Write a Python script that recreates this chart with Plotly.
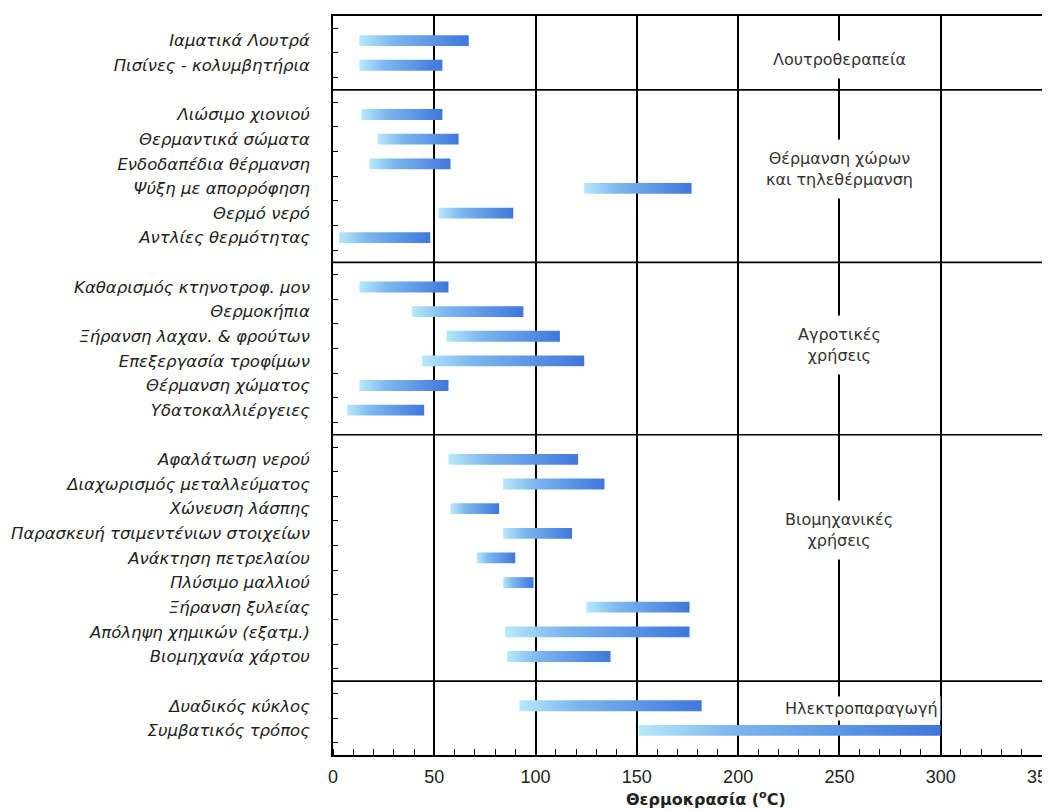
import plotly.graph_objects as go

# ---------------- data ----------------
group_names = [
    "Λουτροθεραπεία",
    "Θέρμανση χώρων<br>και τηλεθέρμανση",
    "Αγροτικές<br>χρήσεις",
    "Βιομηχανικές<br>χρήσεις",
    "Ηλεκτροπαραγωγή",
]
group_sizes = [2, 6, 6, 9, 2]

uses = [
    "Ιαματικά Λουτρά", "Πισίνες - κολυμβητήρια",
    "Λιώσιμο χιονιού", "Θερμαντικά σώματα", "Ενδοδαπέδια θέρμανση",
    "Ψύξη με απορρόφηση", "Θερμό νερό", "Αντλίες θερμότητας",
    "Καθαρισμός κτηνοτροφ. μον", "Θερμοκήπια", "Ξήρανση λαχαν. & φρούτων",
    "Επεξεργασία τροφίμων", "Θέρμανση χώματος", "Υδατοκαλλιέργειες",
    "Αφαλάτωση νερού", "Διαχωρισμός μεταλλεύματος", "Χώνευση λάσπης",
    "Παρασκευή τσιμεντένιων στοιχείων", "Ανάκτηση πετρελαίου", "Πλύσιμο μαλλιού",
    "Ξήρανση ξυλείας", "Απόληψη χημικών (εξατμ.)", "Βιομηχανία χάρτου",
    "Δυαδικός κύκλος", "Συμβατικός τρόπος",
]
t_min = [13, 13,
         14, 22, 18, 124, 52, 3,
         13, 39, 56, 44, 13, 7,
         57, 84, 58, 84, 71, 84, 125, 85, 86,
         92, 151]
t_max = [67, 54,
         54, 62, 58, 177, 89, 48,
         57, 94, 112, 124, 57, 45,
         121, 134, 82, 118, 90, 99, 176, 176, 137,
         182, 300]

x_ticks = [0, 50, 100, 150, 200, 250, 300, 350]
x_title = "Θερμοκρασία (<sup>o</sup>C)"

# ---------------- layout helpers ----------------
# each group occupies (n + 1) row units: rows at 1..n after its top boundary
row_pos = []
boundaries = [0]
b = 0
for n in group_sizes:
    row_pos.extend([b + k for k in range(1, n + 1)])
    b += n + 1
    boundaries.append(b)
total_units = b
tick_marks = []
for i in range(len(group_sizes)):
    tick_marks.extend([boundaries[i] + k + 0.5 for k in range(group_sizes[i] + 1)])

half_h = 0.22
bar_scale = [[0.0, "#b8e9fa"], [0.3, "#7db8ef"], [1.0, "#3f77dc"]]

fig = go.Figure()
for name, s, e, y in zip(uses, t_min, t_max, row_pos):
    fig.add_trace(go.Scatter(
        x=[s, e, e, s, s],
        y=[y - half_h, y - half_h, y + half_h, y + half_h, y - half_h],
        mode="lines", fill="toself",
        line=dict(width=0, color="rgba(0,0,0,0)"),
        fillgradient=dict(type="horizontal", colorscale=bar_scale),
        name=name, hoverinfo="name",
    ))

# group separators
for yb in boundaries[1:-1]:
    fig.add_shape(type="line", xref="x", yref="y", x0=0, x1=350, y0=yb, y1=yb,
                  line=dict(color="black", width=1.6), layer="above")

# group labels (interrupting the 250 gridline)
label_x = [250, 250, 250, 250, 261]
label_shift = [0.25, -0.29, -0.14, -1.13, -0.4]
label_pad = [9, 9, 9, 9, 2]
for i, g in enumerate(group_names):
    yc = (boundaries[i] + boundaries[i + 1]) / 2 + label_shift[i]
    fig.add_annotation(x=label_x[i], y=yc, xref="x", yref="y", text=g,
                       showarrow=False, bgcolor="white", borderpad=label_pad[i],
                       font=dict(family="DejaVu Sans", size=16, color="#333"),
                       align="center")

# x-axis title (placed slightly right of centre, as in the reference)
fig.add_annotation(x=0.526, y=0, xref="paper", yref="paper", yanchor="middle",
                   yshift=-43, showarrow=False, text="<b>" + x_title + "</b>",
                   font=dict(family="DejaVu Sans", size=16, color="#222"))

# page body adds an 8px offset: figure is sized so the plot lands where the reference has it
fig.update_layout(
    width=1042, height=803,
    margin=dict(l=325, r=8, t=8, b=56, autoexpand=False),
    plot_bgcolor="white", paper_bgcolor="white",
    showlegend=False,
    xaxis=dict(
        range=[0, 350], tickmode="array", tickvals=x_ticks,
        ticks="", showgrid=True, gridcolor="black", gridwidth=1.6,
        showline=True, linecolor="black", linewidth=1.6, mirror=True,
        zeroline=False, automargin=False,
        tickfont=dict(family="Liberation Sans", size=18, color="#222"),
        ticklabelstandoff=5, ticklabeloverflow="allow",
        minor=dict(tick0=0, dtick=10, ticks="inside", ticklen=6,
                   tickcolor="black", tickwidth=1.2, showgrid=False),
    ),
    yaxis=dict(
        range=[total_units, 0], tickmode="array", tickvals=row_pos, ticktext=uses,
        ticks="", showgrid=False, zeroline=False, automargin=False,
        showline=True, linecolor="black", linewidth=1.6, mirror=True,
        tickfont=dict(family="DejaVu Sans", size=16.5, color="#222", style="italic"),
        ticklabelstandoff=18,
        minor=dict(tickmode="array", tickvals=tick_marks, ticks="inside", ticklen=5,
                   tickcolor="black", tickwidth=1.2, showgrid=False),
    ),
)

fig.write_html("out.html")
